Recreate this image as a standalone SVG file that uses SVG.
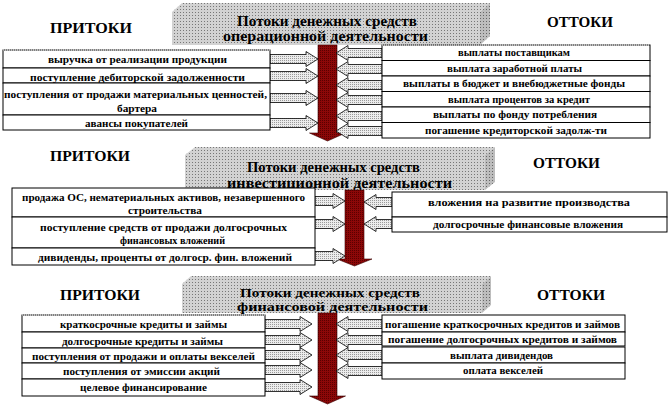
<svg xmlns="http://www.w3.org/2000/svg" width="670" height="405" viewBox="0 0 670 405">
<defs>
<pattern id="gh" width="3" height="3" patternUnits="userSpaceOnUse"><rect width="3" height="3" fill="#d2d2d2"/><rect width="1" height="1" fill="#777"/></pattern>
<pattern id="gs" width="3" height="3" patternUnits="userSpaceOnUse"><rect width="3" height="3" fill="#bdbdbd"/><rect width="1" height="1" fill="#666"/></pattern>
<pattern id="ga" width="2" height="2" patternUnits="userSpaceOnUse"><rect width="2" height="2" fill="#ececec"/><rect width="1" height="1" fill="#9a9a9a"/></pattern>
<pattern id="rd" width="2" height="2" patternUnits="userSpaceOnUse"><rect width="2" height="2" fill="#8c0808"/><rect width="1" height="1" fill="#5a0000"/></pattern>
</defs>
<style>
.t{font-family:"Liberation Serif","Times New Roman","DejaVu Serif",serif;font-weight:bold;font-size:10.5px;fill:#000}
.h{font-size:15px}
.h3{font-size:13px}
.row{fill:#fff;stroke:#000;stroke-width:1}
.dot{fill:none;stroke:#fff;stroke-width:1.2;stroke-dasharray:1 1}
.arr{fill:url(#ga);stroke:#000;stroke-width:0.8}
.red{fill:url(#rd);stroke:#3a0000;stroke-width:0.6}
.top{fill:url(#gh)}
.side{fill:url(#gs)}
.front{fill:url(#gh)}
</style>
<rect width="670" height="405" fill="#fff"/>

<!-- Headers -->
<g id="header-oper">
<polygon class="top" points="172,12 182,3 490,3 480,12"/>
<polygon class="side" points="480,12 490,3 490,36 480,45"/>
<rect class="front" x="172" y="12" width="308" height="33"/>
<text class="t h" x="237" y="26" textLength="180" lengthAdjust="spacingAndGlyphs">Потоки денежных средств</text>
<text class="t h" x="223" y="41" textLength="205" lengthAdjust="spacingAndGlyphs">операционной деятельности</text>
</g>
<g id="header-inv">
<polygon class="top" points="185,155 195,147 495,147 485,155"/>
<polygon class="side" points="485,155 495,147 495,182 485,190"/>
<rect class="front" x="185" y="155" width="300" height="35"/>
<text class="t h" x="247" y="172" textLength="173" lengthAdjust="spacingAndGlyphs">Потоки денежных средств</text>
<text class="t h" x="227" y="188" textLength="225" lengthAdjust="spacingAndGlyphs">инвестиционной деятельности</text>
</g>
<g id="header-fin">
<polygon class="top" points="182,284 191,276 491,276 482,284"/>
<polygon class="side" points="482,284 491,276 491,305 482,313"/>
<rect class="front" x="182" y="284" width="300" height="29"/>
<text class="t h3" x="240" y="297" textLength="180" lengthAdjust="spacingAndGlyphs">Потоки денежных средств</text>
<text class="t h3" x="237" y="310.5" textLength="191" lengthAdjust="spacingAndGlyphs">финансовой деятельности</text>
</g>

<!-- Section titles -->
<g id="in-1"><text class="t h" x="50" y="33" textLength="82" lengthAdjust="spacingAndGlyphs">ПРИТОКИ</text></g>
<g id="out-1"><text class="t h" x="547" y="27" textLength="66" lengthAdjust="spacingAndGlyphs">ОТТОКИ</text></g>
<g id="in-2"><text class="t h" x="50" y="161" textLength="80" lengthAdjust="spacingAndGlyphs">ПРИТОКИ</text></g>
<g id="out-2"><text class="t h" x="533" y="168" textLength="67" lengthAdjust="spacingAndGlyphs">ОТТОКИ</text></g>
<g id="in-3"><text class="t h" x="60" y="300" textLength="80" lengthAdjust="spacingAndGlyphs">ПРИТОКИ</text></g>
<g id="out-3"><text class="t h" x="537" y="300" textLength="68" lengthAdjust="spacingAndGlyphs">ОТТОКИ</text></g>

<!-- Connectors -->
<g id="connectors">
<path class="red" d="M318,45 H337 V133 H345.5 L327.5,141 L309.5,133 H318 Z"/>
<path class="red" d="M345,190 H364 V259 H372 L354.5,266 L337,259 H345 Z"/>
<path class="red" d="M318,313 H337 V396 H345.5 L327.5,404 L309.5,396 H318 Z"/>

<path class="arr" d="M270,54.5 H306 V51.5 L318,59 L306,66.5 V63.5 H270 Z"/>
<path class="arr" d="M270,71.5 H306 V68.5 L318,76 L306,83.5 V80.5 H270 Z"/>
<path class="arr" d="M270,93.5 H306 V90.5 L318,98 L306,105.5 V102.5 H270 Z"/>
<path class="arr" d="M270,118.5 H306 V115.5 L318,123 L306,130.5 V127.5 H270 Z"/>

<path class="arr" d="M382,48.5 H348 V45.5 L336,53 L348,60.5 V57.5 H382 Z"/>
<path class="arr" d="M382,64.5 H348 V61.5 L336,69 L348,76.5 V73.5 H382 Z"/>
<path class="arr" d="M382,80.5 H348 V77.5 L336,85 L348,92.5 V89.5 H382 Z"/>
<path class="arr" d="M382,95.5 H348 V92.5 L336,100 L348,107.5 V104.5 H382 Z"/>
<path class="arr" d="M382,111.5 H348 V108.5 L336,116 L348,123.5 V120.5 H382 Z"/>
<path class="arr" d="M382,126.5 H348 V123.5 L336,131 L348,138.5 V135.5 H382 Z"/>

<path class="arr" d="M315,196.5 H333 V193.5 L345,201 L333,208.5 V205.5 H315 Z"/>
<path class="arr" d="M315,219.5 H333 V216.5 L345,224 L333,231.5 V228.5 H315 Z"/>
<path class="arr" d="M315,251.5 H333 V248.5 L345,256 L333,263.5 V260.5 H315 Z"/>
<path class="arr" d="M392,197.5 H376 V194.5 L364,202 L376,209.5 V206.5 H392 Z"/>
<path class="arr" d="M392,219.5 H376 V216.5 L364,224 L376,231.5 V228.5 H392 Z"/>

<path class="arr" d="M265,319.5 H300 V316.5 L312,324 L300,331.5 V328.5 H265 Z"/>
<path class="arr" d="M265,335.5 H300 V332.5 L312,340 L300,347.5 V344.5 H265 Z"/>
<path class="arr" d="M265,350.5 H300 V347.5 L312,355 L300,362.5 V359.5 H265 Z"/>
<path class="arr" d="M265,365.5 H300 V362.5 L312,370 L300,377.5 V374.5 H265 Z"/>
<path class="arr" d="M265,382.5 H300 V379.5 L312,387 L300,394.5 V391.5 H265 Z"/>
<path class="arr" d="M382,319.5 H348 V316.5 L336,324 L348,331.5 V328.5 H382 Z"/>
<path class="arr" d="M382,335.5 H348 V332.5 L336,340 L348,347.5 V344.5 H382 Z"/>
<path class="arr" d="M382,350.5 H348 V347.5 L336,355 L348,362.5 V359.5 H382 Z"/>
<path class="arr" d="M382,366.5 H348 V363.5 L336,371 L348,378.5 V375.5 H382 Z"/>
</g>

<!-- Section 1 inflows -->
<g id="op-in-1"><rect class="row" x="3" y="50" width="267" height="18"/><line class="dot" x1="3" y1="50" x2="270" y2="50"/>
<text class="t" x="48" y="63" textLength="179" lengthAdjust="spacingAndGlyphs">выручка от реализации продукции</text></g>
<g id="op-in-2"><rect class="row" x="3" y="68" width="267" height="15"/>
<text class="t" x="30" y="81" textLength="215" lengthAdjust="spacingAndGlyphs">поступление  дебиторской   задолженности</text></g>
<g id="op-in-3"><rect class="row" x="3" y="83" width="267" height="32"/>
<text class="t" x="4" y="98" textLength="263" lengthAdjust="spacingAndGlyphs">поступления от продажи материальных ценностей,</text>
<text class="t" x="117" y="112" textLength="40" lengthAdjust="spacingAndGlyphs">бартера</text></g>
<g id="op-in-4"><rect class="row" x="3" y="115" width="267" height="15"/>
<text class="t" x="85" y="127" textLength="103" lengthAdjust="spacingAndGlyphs">авансы покупателей</text></g>

<!-- Section 1 outflows -->
<g id="op-out-1"><rect class="row" x="382" y="45" width="268" height="15.5"/><line class="dot" x1="382" y1="45" x2="650" y2="45"/>
<text class="t" x="458" y="56" textLength="112" lengthAdjust="spacingAndGlyphs">выплаты поставщикам</text></g>
<g id="op-out-2"><rect class="row" x="382" y="60.5" width="268" height="15.5"/>
<text class="t" x="447" y="71.5" textLength="135" lengthAdjust="spacingAndGlyphs">выплата заработной платы</text></g>
<g id="op-out-3"><rect class="row" x="382" y="76" width="268" height="15.5"/>
<text class="t" x="403" y="87" textLength="222" lengthAdjust="spacingAndGlyphs">выплаты в бюджет и внебюджетные фонды</text></g>
<g id="op-out-4"><rect class="row" x="382" y="91.5" width="268" height="15.5"/>
<text class="t" x="448" y="102.5" textLength="142" lengthAdjust="spacingAndGlyphs">выплата процентов за кредит</text></g>
<g id="op-out-5"><rect class="row" x="382" y="107" width="268" height="15.5"/>
<text class="t" x="433" y="118" textLength="164" lengthAdjust="spacingAndGlyphs">выплаты по фонду потребления</text></g>
<g id="op-out-6"><rect class="row" x="382" y="122.5" width="268" height="15.5"/>
<text class="t" x="425" y="133.5" textLength="182" lengthAdjust="spacingAndGlyphs">погашение кредиторской задолж-ти</text></g>

<!-- Section 2 inflows -->
<g id="inv-in-1"><rect class="row" x="12" y="188" width="303" height="29"/>
<text class="t" x="22" y="201" textLength="283" lengthAdjust="spacingAndGlyphs">продажа ОС, нематериальных  активов, незавершенного</text>
<text class="t" x="128" y="214" textLength="74" lengthAdjust="spacingAndGlyphs">строительства</text></g>
<g id="inv-in-2"><rect class="row" x="12" y="217" width="303" height="31"/>
<text class="t" x="40" y="231" textLength="247" lengthAdjust="spacingAndGlyphs">поступление  средств от продажи  долгосрочных</text>
<text class="t" x="120" y="244" textLength="105" lengthAdjust="spacingAndGlyphs">финансовых  вложений</text></g>
<g id="inv-in-3"><rect class="row" x="12" y="248" width="303" height="17"/>
<text class="t" x="38" y="261" textLength="254" lengthAdjust="spacingAndGlyphs">дивиденды, проценты от долгоср. фин. вложений</text></g>

<!-- Section 2 outflows -->
<g id="inv-out-1"><rect class="row" x="392" y="192" width="275" height="25"/>
<text class="t" x="428" y="206" textLength="202" lengthAdjust="spacingAndGlyphs">вложения на развитие производства</text></g>
<g id="inv-out-2"><rect class="row" x="392" y="217" width="275" height="15"/>
<text class="t" x="433" y="228" textLength="190" lengthAdjust="spacingAndGlyphs">долгосрочные финансовые вложения</text></g>

<!-- Section 3 inflows -->
<g id="fin-in-1"><rect class="row" x="22" y="315" width="243" height="17"/><line class="dot" x1="22" y1="315" x2="265" y2="315"/>
<text class="t" x="60" y="328" textLength="167" lengthAdjust="spacingAndGlyphs">краткосрочные кредиты и займы</text></g>
<g id="fin-in-2"><rect class="row" x="22" y="332" width="243" height="16"/>
<text class="t" x="62" y="345" textLength="161" lengthAdjust="spacingAndGlyphs">долгосрочные кредиты и займы</text></g>
<g id="fin-in-3"><rect class="row" x="22" y="348" width="243" height="15"/>
<text class="t" x="32" y="360" textLength="223" lengthAdjust="spacingAndGlyphs">поступления от продажи и оплаты векселей</text></g>
<g id="fin-in-4"><rect class="row" x="22" y="363" width="243" height="16"/>
<text class="t" x="63" y="375" textLength="157" lengthAdjust="spacingAndGlyphs">поступления от эмиссии  акций</text></g>
<g id="fin-in-5"><rect class="row" x="22" y="379" width="243" height="17"/>
<text class="t" x="80" y="391" textLength="127" lengthAdjust="spacingAndGlyphs">целевое финансирование</text></g>

<!-- Section 3 outflows -->
<g id="fin-out-1"><rect class="row" x="382" y="315" width="243" height="17"/>
<text class="t" x="385" y="328" textLength="235" lengthAdjust="spacingAndGlyphs">погашение  краткосрочных кредитов и займов</text></g>
<g id="fin-out-2"><rect class="row" x="382" y="332" width="243" height="14"/>
<text class="t" x="388" y="343" textLength="229" lengthAdjust="spacingAndGlyphs">погашение  долгосрочных кредитов и займов</text></g>
<g id="fin-out-3"><rect class="row" x="382" y="347" width="243" height="16"/>
<text class="t" x="450" y="359" textLength="103" lengthAdjust="spacingAndGlyphs">выплата дивидендов</text></g>
<g id="fin-out-4"><rect class="row" x="382" y="363" width="243" height="16"/>
<text class="t" x="463" y="374" textLength="80" lengthAdjust="spacingAndGlyphs">оплата векселей</text></g>
</svg>
